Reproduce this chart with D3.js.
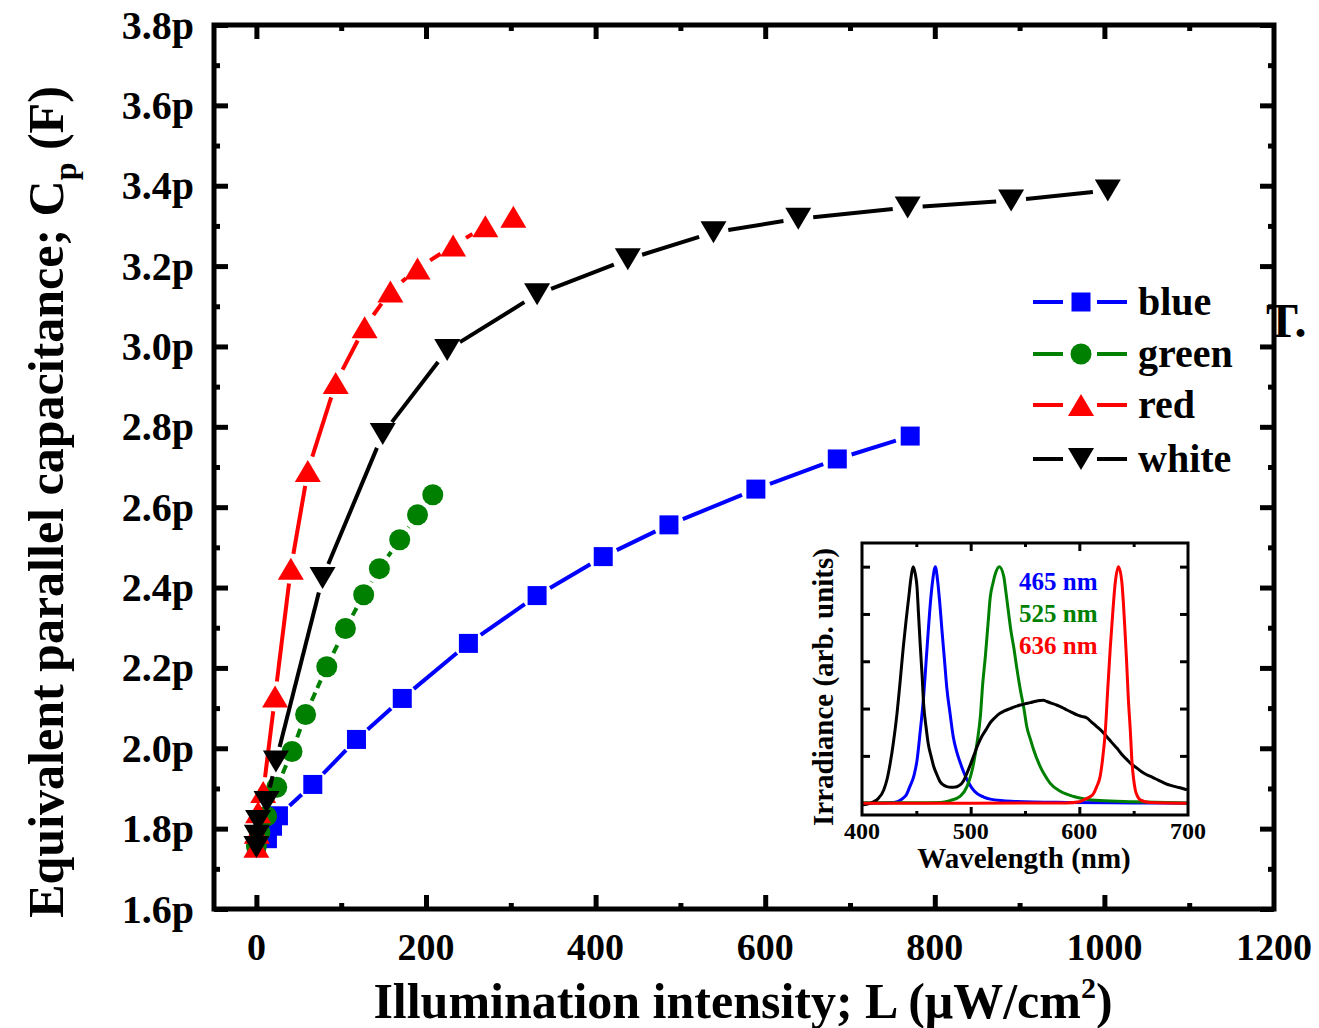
<!DOCTYPE html>
<html><head><meta charset="utf-8">
<script src="https://cdn.jsdelivr.net/npm/d3@7"></script>
<style>
body{margin:0;background:#fff}
svg{display:block}
text{font-family:"Liberation Serif","Times New Roman",serif;font-weight:bold;fill:#000}
</style>
</head><body>
<svg id="chart" width="1319" height="1028"></svg>
<script>
// Equivalent parallel capacitance (pF) versus illumination intensity (µW/cm²)
const blueData  = [[0,1.757],[13,1.775],[19,1.806],[26,1.832],[66.5,1.910],[118,2.022],[172,2.124],[250,2.261],[331,2.380],[409,2.477],[486.5,2.556],[589,2.645],[685,2.720],[771,2.777]];
const greenData = [[0,1.757],[4,1.79],[12,1.831],[24,1.903],[42,1.992],[58,2.084],[83,2.203],[105,2.298],[126.5,2.382],[145,2.447],[169,2.519],[190,2.581],[208,2.631]];
const redData   = [[0,1.755],[0.5,1.79],[2,1.841],[8,1.891],[22,2.129],[40.6,2.447],[60.6,2.690],[93.5,2.909],[127.6,3.048],[158,3.137],[190,3.194],[232,3.251],[270,3.299],[303,3.323]];
const whiteData = [[0,1.754],[0.5,1.782],[2,1.819],[12,1.866],[23,1.967],[78,2.424],[149,2.782],[225,2.991],[331,3.130],[438,3.217],[539,3.284],[639,3.318],[768,3.346],[890,3.363],[1004,3.388]];

const seriesNames  = ["blue","green","red","white"];
const xTickValues  = [0,200,400,600,800,1000,1200];
const yTickValues  = [1.6,1.8,2.0,2.2,2.4,2.6,2.8,3.0,3.2,3.4,3.6,3.8];
const yTickLabels  = ["1.6p","1.8p","2.0p","2.2p","2.4p","2.6p","2.8p","3.0p","3.2p","3.4p","3.6p","3.8p"];

// Emission spectra of the LEDs (wavelength nm, normalised irradiance)
const specBlue  = [[400,0],[429,0.003],[440,0.03],[444,0.07],[448,0.12],[450.6,0.18],[453.5,0.30],[456.7,0.45],[459,0.60],[461,0.73],[463,0.85],[465,0.94],[467.5,1.0],[469.6,0.94],[471.5,0.85],[473.6,0.73],[476,0.60],[478,0.49],[481,0.38],[484,0.28],[487,0.22],[490.5,0.17],[496.6,0.10],[501,0.065],[506,0.04],[512,0.026],[518,0.017],[530,0.01],[542.6,0.007],[588.6,0.003],[650,0.001],[699,0]];
const specGreen = [[400,0.002],[450,0.002],[472,0.003],[481,0.011],[490.5,0.03],[496.6,0.07],[502.8,0.17],[506,0.26],[509,0.37],[511,0.50],[513.5,0.62],[516,0.76],[518,0.87],[520.5,0.93],[522.7,0.97],[526.4,1.0],[530.4,0.96],[532.5,0.89],[535,0.80],[537,0.73],[539.6,0.66],[542.5,0.57],[545.7,0.48],[549,0.40],[551.8,0.32],[555,0.27],[558,0.225],[564,0.155],[568,0.12],[573,0.085],[582.5,0.05],[594.8,0.028],[605,0.018],[619,0.011],[650,0.006],[699,0.001]];
const specRed   = [[400,0],[500,0],[588,0.001],[600,0.006],[604,0.014],[609,0.025],[613,0.04],[616,0.07],[619,0.11],[621.5,0.19],[624,0.31],[626,0.47],[628.5,0.66],[631,0.82],[633,0.93],[636,1.0],[639,0.94],[640.5,0.85],[642,0.73],[643.5,0.60],[645,0.45],[647,0.30],[648.5,0.17],[650,0.10],[651.5,0.056],[654,0.025],[656,0.014],[665,0.003],[699,0]];
const specWhite = [[400,-0.007],[405,-0.004],[410.7,0.006],[415,0.02],[420,0.056],[423,0.10],[426,0.17],[429,0.26],[432,0.37],[435,0.51],[438,0.66],[440.5,0.77],[443,0.87],[445,0.95],[447,1.0],[449,0.97],[450.6,0.915],[452,0.80],[453.7,0.66],[455.3,0.54],[456.7,0.42],[459,0.32],[461,0.25],[463.5,0.20],[466,0.155],[469,0.12],[472,0.09],[475,0.077],[478,0.07],[482,0.067],[486,0.068],[489,0.074],[492,0.085],[494.5,0.104],[496.6,0.127],[499.5,0.16],[502.8,0.20],[506,0.24],[510,0.28],[514,0.31],[518,0.34],[522,0.36],[527,0.38],[531,0.39],[536.5,0.40],[541,0.408],[545.7,0.415],[550,0.42],[555,0.425],[560,0.431],[564,0.434],[567,0.435],[570,0.43],[574,0.423],[579,0.415],[584,0.405],[588.6,0.394],[593,0.384],[598,0.373],[602,0.367],[607,0.36],[611,0.344],[616,0.324],[621,0.303],[625.5,0.28],[630,0.256],[634.7,0.232],[639,0.207],[644,0.183],[648,0.165],[653,0.148],[657,0.134],[662,0.12],[667,0.11],[671.5,0.10],[676,0.09],[680.7,0.08],[685,0.074],[690,0.068],[695,0.062],[699,0.056]];
const spectrumLabels = ["465 nm","525 nm","636 nm"];
const waveTicks = [400,500,600,700];

const svg = d3.select("#chart");
const colours = {blue:"#0000ff", green:"#008000", red:"#ff0000", white:"#000000"};

// ---------- main plot ----------
const frame = {left:214, right:1274, top:25, bottom:909};
const x = d3.scaleLinear().domain([-50,1200]).range([frame.left, frame.right]);
const y = d3.scaleLinear().domain([1.6,3.8]).range([frame.bottom, frame.top]);

// inward-pointing ticks on all four sides of a box
function tickAxes(g, xs, ys, xSet, ySet, major, minor, sw) {
  const add = (axisFn, scale, vals, len, tr) => {
    g.append("g").attr("transform", tr)
      .call(axisFn(scale).tickValues(vals).tickSize(len).tickFormat(""))
      .call(s => s.select(".domain").remove())
      .call(s => s.selectAll("line").attr("stroke","#000").attr("stroke-width",sw).attr("stroke-linecap","butt"));
  };
  const [x0,x1] = xs.range(), [y0,y1] = ys.range();
  add(d3.axisTop, xs, xSet.major, major, `translate(0,${y0})`);
  add(d3.axisTop, xs, xSet.minor, minor, `translate(0,${y0})`);
  add(d3.axisBottom, xs, xSet.major, major, `translate(0,${y1})`);
  add(d3.axisBottom, xs, xSet.minor, minor, `translate(0,${y1})`);
  add(d3.axisRight, ys, ySet.major, major, `translate(${x0},0)`);
  add(d3.axisRight, ys, ySet.minor, minor, `translate(${x0},0)`);
  add(d3.axisLeft, ys, ySet.major, major, `translate(${x1},0)`);
  add(d3.axisLeft, ys, ySet.minor, minor, `translate(${x1},0)`);
}
const axisG = svg.append("g");
tickAxes(axisG, x, y,
  {major:[0,200,400,600,800,1000], minor:[100,300,500,700,900,1100]},
  {major:yTickValues, minor:d3.range(1.7,3.8,0.2)},
  14, 6, 5);

axisG.append("rect").attr("x",frame.left).attr("y",frame.top)
  .attr("width",frame.right-frame.left).attr("height",frame.bottom-frame.top)
  .attr("fill","none").attr("stroke","#000").attr("stroke-width",5);

// tick labels
svg.append("g").selectAll("text").data(xTickValues).join("text")
  .attr("x", d => x(d)).attr("y", 960).attr("text-anchor","middle")
  .style("font-size","38px").text(d => d);
svg.append("g").selectAll("text").data(yTickValues).join("text")
  .attr("x", 194).attr("y", d => y(d) + 13.5).attr("text-anchor","end")
  .style("font-size","40px").text((d,i) => yTickLabels[i]);

// axis titles
const xt = svg.append("text").attr("x",743).attr("y",1018).attr("text-anchor","middle").style("font-size","50px");
xt.append("tspan").text("Illumination intensity; L (\u03bcW/cm");
xt.append("tspan").attr("dy",-20).style("font-size","30px").text("2");
xt.append("tspan").attr("dy",20).text(")");

const yt = svg.append("text").attr("transform","translate(63,502) rotate(-90)").attr("text-anchor","middle").style("font-size","50px");
yt.append("tspan").text("Equivalent parallel capacitance; C");
yt.append("tspan").attr("dy",13).style("font-size","32px").text("p");
yt.append("tspan").attr("dy",-13).text(" (F)");

// stray glyphs at the right edge
svg.append("text").attr("x",1266).attr("y",337).style("font-size","48px").text("T.");

// ---------- series ----------
const seriesData = {blue:blueData, green:greenData, red:redData, white:whiteData};
const gap = 15;
function drawMarker(g, name, cx, cy) {
  const c = colours[name];
  if (name === "blue") {
    const s = 19;
    g.append("rect").attr("x",cx-s/2).attr("y",cy-s/2).attr("width",s).attr("height",s).attr("fill",c);
  } else if (name === "green") {
    g.append("circle").attr("cx",cx).attr("cy",cy).attr("r",10.5).attr("fill",c);
  } else if (name === "red") {
    const w = 13, h = 11;
    g.append("path").attr("d",`M${cx-w},${cy+h}L${cx+w},${cy+h}L${cx},${cy-h}Z`).attr("fill",c);
  } else {
    const w = 13, h = 11;
    g.append("path").attr("d",`M${cx-w},${cy-h}L${cx+w},${cy-h}L${cx},${cy+h}Z`).attr("fill",c);
  }
}
seriesNames.forEach(name => {
  const data = seriesData[name];
  const g = svg.append("g");
  const pts = data.map(d => [x(d[0]), y(d[1])]);
  for (let i = 0; i < pts.length-1; i++) {
    const [x1,y1] = pts[i], [x2,y2] = pts[i+1];
    const len = Math.hypot(x2-x1, y2-y1);
    if (len <= 2*gap) continue;
    const ux = (x2-x1)/len, uy = (y2-y1)/len;
    g.append("line")
      .attr("x1",x1+ux*gap).attr("y1",y1+uy*gap)
      .attr("x2",x2-ux*gap).attr("y2",y2-uy*gap)
      .attr("stroke",colours[name]).attr("stroke-width",4)
      .attr("stroke-dasharray", name === "green" ? "9,5" : null);
  }
  pts.forEach(p => drawMarker(g, name, p[0], p[1]));
});

// legend
const legendY = [302,354,405,459];
seriesNames.forEach((name,i) => {
  const g = svg.append("g");
  const yy = legendY[i];
  g.append("line").attr("x1",1033).attr("x2",1063).attr("y1",yy).attr("y2",yy).attr("stroke",colours[name]).attr("stroke-width",4);
  g.append("line").attr("x1",1097).attr("x2",1127).attr("y1",yy).attr("y2",yy).attr("stroke",colours[name]).attr("stroke-width",4);
  drawMarker(g, name, 1081, yy);
  g.append("text").attr("x",1138).attr("y",yy+13).style("font-size","40px").text(name);
});

// ---------- inset: emission spectra ----------
const ins = {left:862, right:1188, top:543, bottom:815};
const wx = d3.scaleLinear().domain([400,700]).range([ins.left, ins.right]);
const wy = d3.scaleLinear().domain([-0.05,1.1]).range([ins.bottom, ins.top]);
const inset = svg.append("g");
tickAxes(inset.append("g"), wx, wy,
  {major:[500,600], minor:[450,550,650]},
  {major:[0.2,0.4,0.6,0.8,1.0], minor:[]},
  8, 4, 3);

const spec = d3.line().x(d => wx(d[0])).y(d => wy(d[1])).curve(d3.curveMonotoneX);
[[specBlue,"#0000ff"],[specGreen,"#008000"],[specWhite,"#000000"],[specRed,"#ff0000"]].forEach(([d,c]) => {
  inset.append("path").datum(d).attr("d",spec).attr("fill","none").attr("stroke",c).attr("stroke-width",3);
});
inset.append("rect").attr("x",ins.left).attr("y",ins.top).attr("width",ins.right-ins.left).attr("height",ins.bottom-ins.top)
  .attr("fill","none").attr("stroke","#000").attr("stroke-width",3);

inset.append("g").selectAll("text").data(waveTicks).join("text")
  .attr("x", d => wx(d)).attr("y", 839).attr("text-anchor","middle").style("font-size","24px").text(d => d);
inset.append("text").attr("x",1024).attr("y",868).attr("text-anchor","middle").style("font-size","29px").text("Wavelength (nm)");
inset.append("text").attr("transform","translate(833,687) rotate(-90)").attr("text-anchor","middle").style("font-size","29px").text("Irradiance (arb. units)");
const labColours = ["#0000ff","#008000","#ff0000"];
inset.append("g").selectAll("text").data(spectrumLabels).join("text")
  .attr("x",1019).attr("y",(d,i) => 590 + i*32).style("font-size","25px")
  .style("fill",(d,i) => labColours[i]).text(d => d);
</script>
</body></html>
